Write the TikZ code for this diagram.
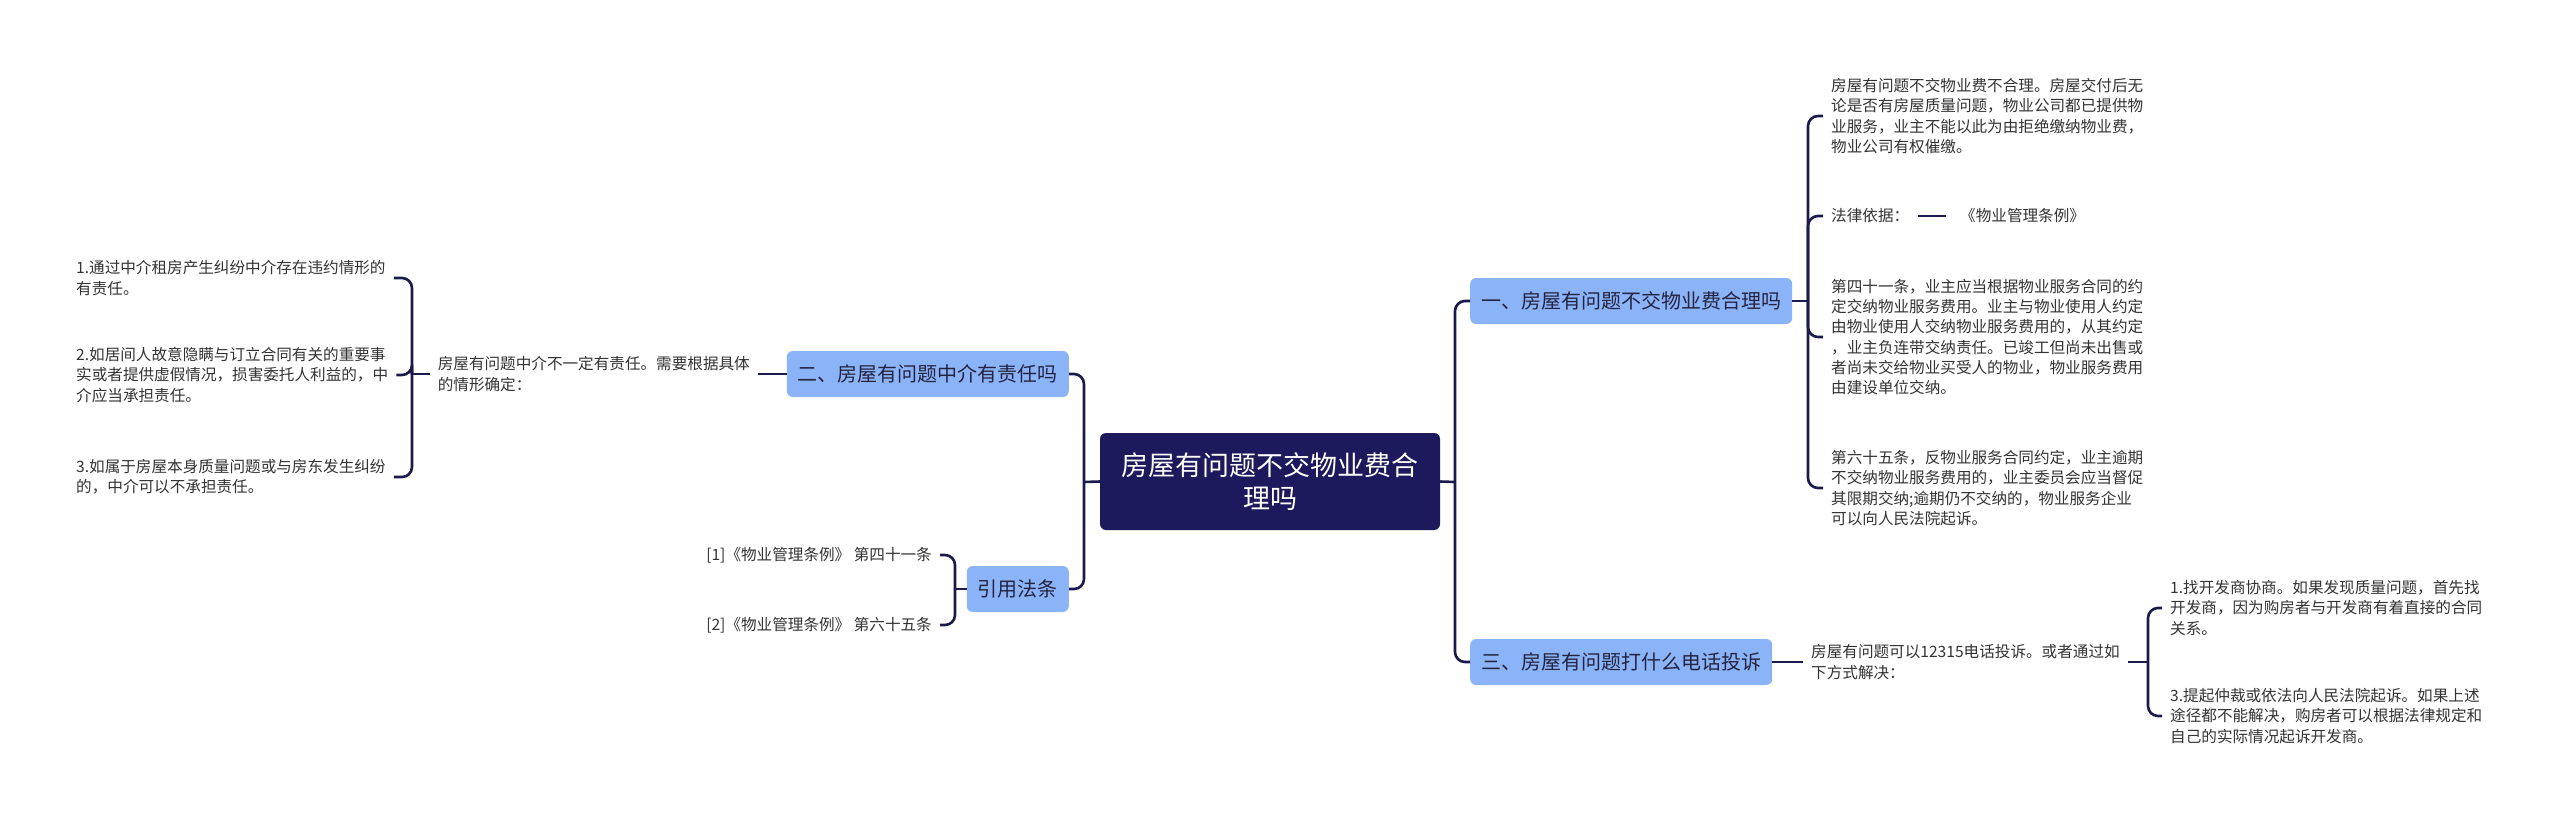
\documentclass[tikz,border=0pt]{standalone}
\usepackage{fontspec}
\setmainfont{Noto Sans CJK SC}
\definecolor{navy}{HTML}{1C1A5C}
\definecolor{linec}{HTML}{1A1A4C}
\definecolor{boxblue}{HTML}{8AB3F8}
\definecolor{boxtext}{HTML}{242440}
\definecolor{leaftext}{HTML}{333333}
\begin{document}
\begin{tikzpicture}[x=1pt,y=-1pt,
  conn/.style={draw=linec,line width=2.6pt,rounded corners=10pt},
  centerbox/.style={fill=navy,text=white,rounded corners=6pt,minimum width=340pt,minimum height=97pt,align=center,inner sep=0pt,font=\fontsize{27pt}{33pt}\selectfont},
  subbox/.style={fill=boxblue,text=boxtext,rounded corners=6pt,minimum height=46pt,inner xsep=11pt,inner ysep=0pt,font=\fontsize{20pt}{24pt}\selectfont},
  leaf/.style={text=leaftext,align=left,inner xsep=8pt,inner ysep=0pt,font=\fontsize{15.6pt}{20.2pt}\selectfont}
]
\useasboundingbox[fill=white] (0,0) rectangle (2560,823);

% center
\node[centerbox] (c) at (1270,481.5) {房屋有问题不交物业费合\\理吗};

% main topics
\node[subbox,anchor=west] (b1) at (1470,301) {一、房屋有问题不交物业费合理吗};
\node[subbox,anchor=west] (b3) at (1470,662) {三、房屋有问题打什么电话投诉};
\node[subbox,anchor=east] (b2) at (1069,374) {二、房屋有问题中介有责任吗};
\node[subbox,anchor=east] (b4) at (1069,589) {引用法条};

\coordinate (cr) at (1455,482);
\coordinate (cl) at (1084,482);
\draw[conn] (c.east) -- (cr);
\draw[conn] (cr) |- (b1.west);
\draw[conn] (cr) |- (b3.west);
\draw[conn] (c.west) -- (cl);
\draw[conn] (cl) |- (b2.east);
\draw[conn] (cl) |- (b4.east);

% branch 1
\node[leaf,anchor=west] (a1) at (1823,116) {房屋有问题不交物业费不合理。房屋交付后无\\论是否有房屋质量问题，物业公司都已提供物\\业服务，业主不能以此为由拒绝缴纳物业费，\\物业公司有权催缴。};
\node[leaf,anchor=west] (a2) at (1823,216) {法律依据：};
\node[leaf,anchor=west] (law) at (1952,216) {《物业管理条例》};
\node[leaf,anchor=west] (a3) at (1823,337) {第四十一条，业主应当根据物业服务合同的约\\定交纳物业服务费用。业主与物业使用人约定\\由物业使用人交纳物业服务费用的，从其约定\\，业主负连带交纳责任。已竣工但尚未出售或\\者尚未交给物业买受人的物业，物业服务费用\\由建设单位交纳。};
\node[leaf,anchor=west] (a4) at (1823,488) {第六十五条，反物业服务合同约定，业主逾期\\不交纳物业服务费用的，业主委员会应当督促\\其限期交纳;逾期仍不交纳的，物业服务企业\\可以向人民法院起诉。};
\coordinate (j1) at (1808,301);
\draw[conn] (b1.east) -- (j1);
\draw[conn] (j1) |- (a1.west);
\draw[conn] (j1) |- (a2.west);
\draw[conn] (j1) |- (a3.west);
\draw[conn] (j1) |- (a4.west);
\draw[conn,shorten <=1pt,shorten >=6pt] (a2.east) -- (law.west);

% branch 3
\node[leaf,anchor=west] (d1) at (1803,662) {房屋有问题可以12315电话投诉。或者通过如\\下方式解决：};
\node[leaf,anchor=west] (e1) at (2162,608) {1.找开发商协商。如果发现质量问题，首先找\\开发商，因为购房者与开发商有着直接的合同\\关系。};
\node[leaf,anchor=west] (e3) at (2162,716) {3.提起仲裁或依法向人民法院起诉。如果上述\\途径都不能解决，购房者可以根据法律规定和\\自己的实际情况起诉开发商。};
\coordinate (j3) at (2148,662);
\draw[conn] (b3.east) -- (d1.west);
\draw[conn] (d1.east) -- (j3);
\draw[conn] (j3) |- (e1.west);
\draw[conn] (j3) |- (e3.west);

% branch 2
\node[leaf,anchor=east] (m1) at (758,374) {房屋有问题中介不一定有责任。需要根据具体\\的情形确定：};
\node[leaf,anchor=west] (l1) at (68,278) {1.通过中介租房产生纠纷中介存在违约情形的\\有责任。};
\node[leaf,anchor=west] (l2) at (68,375) {2.如居间人故意隐瞒与订立合同有关的重要事\\实或者提供虚假情况，损害委托人利益的，中\\介应当承担责任。};
\node[leaf,anchor=west] (l3) at (68,477) {3.如属于房屋本身质量问题或与房东发生纠纷\\的，中介可以不承担责任。};
\coordinate (jl) at (412,374);
\draw[conn] (b2.west) -- (m1.east);
\draw[conn] (m1.west) -- (jl);
\draw[conn] (jl) |- (l1.east);
\draw[conn] (jl) |- (l2.east);
\draw[conn] (jl) |- (l3.east);

% references
\node[leaf,anchor=east] (r1) at (940,555) {[1]《物业管理条例》 第四十一条};
\node[leaf,anchor=east] (r2) at (940,625) {[2]《物业管理条例》 第六十五条};
\coordinate (jr) at (955,589);
\draw[conn] (b4.west) -- (jr);
\draw[conn] (jr) |- (r1.east);
\draw[conn] (jr) |- (r2.east);
\end{tikzpicture}
\end{document}
